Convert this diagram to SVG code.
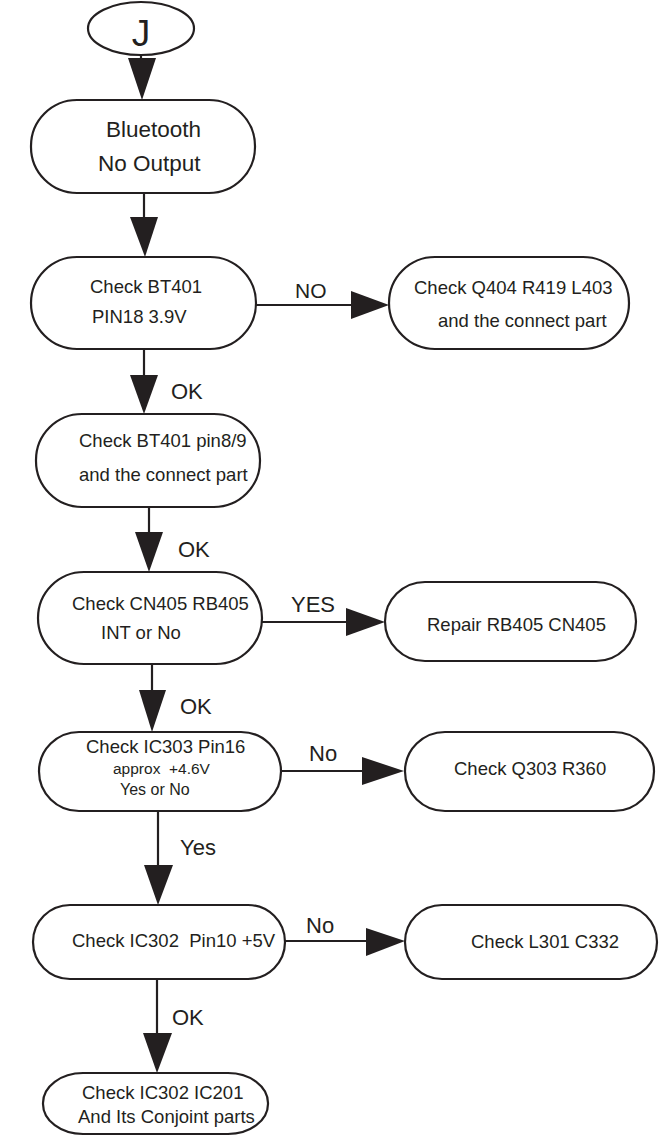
<svg xmlns="http://www.w3.org/2000/svg" width="668" height="1137" viewBox="0 0 668 1137">
<style>
.n{fill:#fff;stroke:#231f20;stroke-width:2.2}
.t{font-family:"Liberation Sans",Arial,sans-serif;font-size:18.5px;fill:#231f20}
.b{font-size:22.5px}
.l{font-family:"Liberation Sans",Arial,sans-serif;font-size:22px;fill:#231f20}
.c{stroke:#231f20;stroke-width:2.2;fill:none}
.h{fill:#231f20;stroke:none}
</style>
<rect width="668" height="1137" fill="#fff"/>
<g id="connectors">
<line class="c" x1="141" y1="55" x2="141" y2="60"/><polygon class="h" points="128,58 156,58 142,100"/>
<line class="c" x1="144" y1="193" x2="144" y2="219"/><polygon class="h" points="130,217 158,217 145,257"/>
<line class="c" x1="256" y1="305" x2="352" y2="305"/><polygon class="h" points="351,291 351,319 389,305"/>
<line class="c" x1="144" y1="349" x2="144" y2="377"/><polygon class="h" points="130,375 158,375 144,414"/>
<line class="c" x1="149" y1="507" x2="149" y2="534"/><polygon class="h" points="135,532 163,532 149,572"/>
<line class="c" x1="262" y1="622" x2="347" y2="622"/><polygon class="h" points="346,608 346,636 385,622"/>
<line class="c" x1="152" y1="664" x2="152" y2="692"/><polygon class="h" points="139,690 166,690 152,732"/>
<line class="c" x1="281" y1="771" x2="363" y2="771"/><polygon class="h" points="362,757 362,785 404,771"/>
<line class="c" x1="158" y1="811" x2="158" y2="867"/><polygon class="h" points="144,865 173,865 158,905"/>
<line class="c" x1="285" y1="941" x2="367" y2="941"/><polygon class="h" points="366,928 366,956 405,941"/>
<line class="c" x1="157" y1="979" x2="157" y2="1035"/><polygon class="h" points="143,1033 172,1033 157,1073"/>
<text class="l" x="295" y="298" style="font-size:21px">NO</text>
<text class="l" x="171" y="399">OK</text>
<text class="l" x="178" y="557">OK</text>
<text class="l" x="291" y="612">YES</text>
<text class="l" x="180" y="714">OK</text>
<text class="l" x="309" y="761">No</text>
<text class="l" x="180" y="855">Yes</text>
<text class="l" x="306" y="933">No</text>
<text class="l" x="172" y="1025">OK</text>
</g>
<g id="nodeJ"><ellipse class="n" cx="141" cy="28.5" rx="53" ry="26.5"/><text class="t" x="141" y="46" text-anchor="middle" style="font-size:37px">J</text></g>
<g id="nodeBluetooth"><rect class="n" x="31" y="100" width="224" height="93" rx="46" ry="46"/><text class="t b" x="106" y="137">Bluetooth</text><text class="t b" x="98" y="171">No Output</text></g>
<g id="nodeBT401"><rect class="n" x="31" y="257" width="225" height="92" rx="46" ry="46"/><text class="t" x="90" y="293">Check BT401</text><text class="t" x="92" y="323">PIN18 3.9V</text></g>
<g id="nodeQ404"><rect class="n" x="389" y="257" width="240" height="92" rx="46" ry="46"/><text class="t" x="414" y="294">Check Q404 R419 L403</text><text class="t" x="438" y="327">and the connect part</text></g>
<g id="nodePin89"><rect class="n" x="36" y="414" width="224" height="93" rx="46" ry="46"/><text class="t" x="79" y="447">Check BT401 pin8/9</text><text class="t" x="79" y="481">and the connect part</text></g>
<g id="nodeCN405"><rect class="n" x="38" y="572" width="224" height="92" rx="46" ry="46"/><text class="t" x="72" y="610">Check CN405 RB405</text><text class="t" x="101" y="639">INT or No</text></g>
<g id="nodeRepair"><rect class="n" x="385" y="582" width="251" height="79" rx="40" ry="40"/><text class="t" x="427" y="631">Repair RB405 CN405</text></g>
<g id="nodeIC303"><rect class="n" x="39" y="732" width="242" height="79" rx="40" ry="40"/><text class="t" x="86" y="753">Check IC303 Pin16</text><text class="t" x="113" y="774" xml:space="preserve" style="font-size:15.5px">approx  +4.6V</text><text class="t" x="120" y="795" style="font-size:16px">Yes or No</text></g>
<g id="nodeQ303"><rect class="n" x="405" y="732" width="249" height="79" rx="40" ry="40"/><text class="t" x="454" y="775">Check Q303 R360</text></g>
<g id="nodeIC302"><rect class="n" x="33" y="905" width="252" height="74" rx="37" ry="37"/><text class="t" x="72" y="947" xml:space="preserve">Check IC302  Pin10 +5V</text></g>
<g id="nodeL301"><rect class="n" x="405" y="905" width="252" height="74" rx="37" ry="37"/><text class="t" x="471" y="948">Check L301 C332</text></g>
<g id="nodeFinal"><rect class="n" x="43" y="1073" width="225" height="61" rx="40" ry="30"/><text class="t" x="82" y="1099">Check IC302 IC201</text><text class="t" x="78" y="1123">And Its Conjoint parts</text></g>
</svg>
